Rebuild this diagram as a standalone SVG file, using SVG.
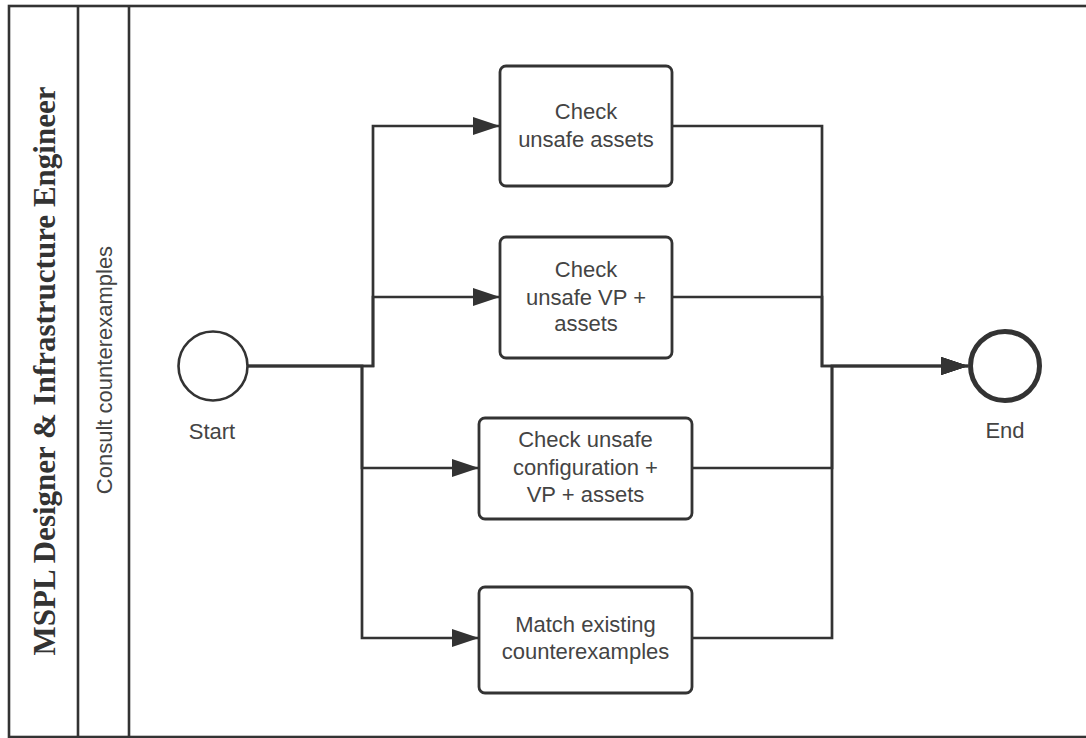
<svg xmlns="http://www.w3.org/2000/svg" width="1086" height="738" viewBox="0 0 1086 738">
<style>
.frame{fill:none;stroke:#333;stroke-width:2.6}
.box{fill:#fff;stroke:#333;stroke-width:2.8}
.conn{fill:none;stroke:#333;stroke-width:2.7}
.lbl{font-family:"Liberation Sans",Arial,sans-serif;font-size:22px;fill:#444;text-anchor:middle}
.pool{font-family:"Liberation Serif","Times New Roman",serif;font-size:31px;font-weight:bold;fill:#333;text-anchor:middle}
</style>
<defs>
<marker id="arr" markerUnits="userSpaceOnUse" markerWidth="27" markerHeight="18" refX="27" refY="9" orient="auto">
<path d="M0,0 L27,9 L0,18 z" fill="#333"/>
</marker>
</defs>
<rect width="1086" height="738" fill="#fff"/>
<g id="pool">
<rect class="frame" x="9" y="6" width="1090" height="731"/>
<line class="frame" x1="78" y1="6" x2="78" y2="737"/>
<line class="frame" x1="129" y1="6" x2="129" y2="737"/>
<text class="pool" transform="translate(55,371) rotate(-90)">MSPL Designer &amp; Infrastructure Engineer</text>
</g>
<g id="lane">
<text class="lbl" transform="translate(112,370) rotate(-90)">Consult counterexamples</text>
</g>
<g id="connectors">
<path class="conn" d="M248,366 H373 V126 H500" marker-end="url(#arr)"/>
<path class="conn" d="M248,366 H373 V297 H500" marker-end="url(#arr)"/>
<path class="conn" d="M248,366 H362 V468 H479" marker-end="url(#arr)"/>
<path class="conn" d="M248,366 H362 V638 H479" marker-end="url(#arr)"/>
<path class="conn" d="M672,126 H822 V366 H968" marker-end="url(#arr)"/>
<path class="conn" d="M672,297 H822 V366 H968" marker-end="url(#arr)"/>
<path class="conn" d="M692,468 H832 V366 H968" marker-end="url(#arr)"/>
<path class="conn" d="M692,638 H832 V366 H968" marker-end="url(#arr)"/>
</g>
<g id="start">
<circle cx="213" cy="366" r="34.5" fill="#fff" stroke="#333" stroke-width="2.6"/>
<text class="lbl" x="212" y="439">Start</text>
</g>
<g id="end">
<circle cx="1005" cy="366" r="34.5" fill="#fff" stroke="#333" stroke-width="5"/>
<text class="lbl" x="1005" y="438">End</text>
</g>
<g id="task1">
<rect class="box" x="500" y="66" width="172" height="120" rx="6"/>
<text class="lbl" x="586" y="119">Check</text>
<text class="lbl" x="586" y="147">unsafe assets</text>
</g>
<g id="task2">
<rect class="box" x="500" y="237" width="172" height="121" rx="6"/>
<text class="lbl" x="586" y="277">Check</text>
<text class="lbl" x="586" y="305">unsafe VP +</text>
<text class="lbl" x="586" y="331">assets</text>
</g>
<g id="task3">
<rect class="box" x="479" y="418" width="213" height="101" rx="6"/>
<text class="lbl" x="585.5" y="447">Check unsafe</text>
<text class="lbl" x="585.5" y="474.5">configuration +</text>
<text class="lbl" x="585.5" y="502">VP + assets</text>
</g>
<g id="task4">
<rect class="box" x="479" y="587" width="213" height="106" rx="6"/>
<text class="lbl" x="585.5" y="632">Match existing</text>
<text class="lbl" x="585.5" y="659">counterexamples</text>
</g>
</svg>
